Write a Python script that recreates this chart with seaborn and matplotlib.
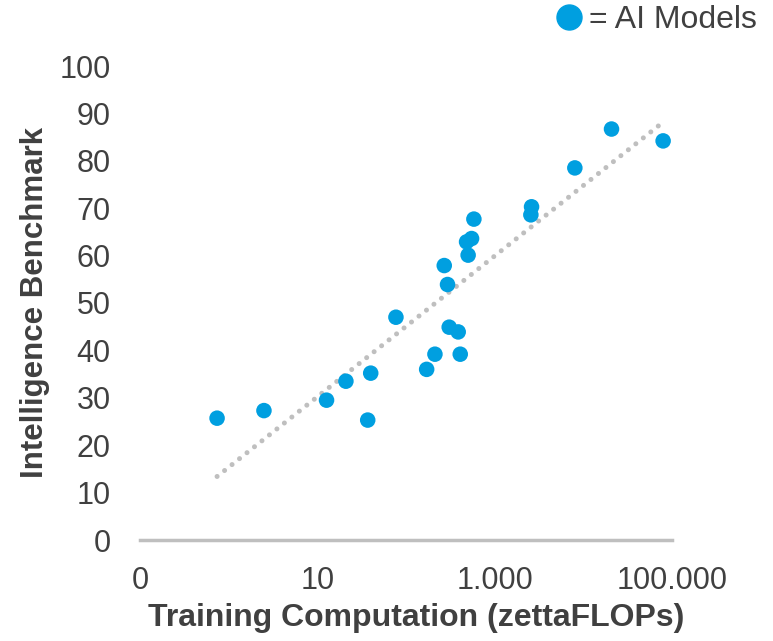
# AI models: intelligence benchmark vs training computation (log scale)
import numpy as np
import pandas as pd
import seaborn as sns
import matplotlib
import matplotlib.pyplot as plt
from matplotlib.ticker import FixedLocator, FixedFormatter, NullLocator

matplotlib.use("Agg")

# values
compute = [0.74, 2.5, 12.7, 21, 40, 37, 77, 171, 212, 307, 388, 409,
           270, 294, 482, 549, 502, 583, 2606, 2560, 8020, 20790, 79400]
benchmark = [25.7, 27.3, 29.5, 33.5, 35.2, 25.3, 47.0, 36.0, 39.2, 44.9, 43.9, 39.2,
             57.9, 53.9, 62.9, 63.6, 60.1, 67.7, 70.3, 68.6, 78.5, 86.7, 84.2]
x_ticks = [0.1, 10, 1000, 100000]
x_tick_labels = ["0", "10", "1.000", "100.000"]
y_ticks = list(range(0, 101, 10))

df = pd.DataFrame({"compute": compute, "benchmark": benchmark})

sns.set_style("white")
plt.rcParams["font.family"] = ["Liberation Sans", "DejaVu Sans"]

blue = "#009FE0"
grey = "#BFBFBF"
text_col = "#404040"

fig = plt.figure(figsize=(7.73, 6.41), dpi=100)
ax = fig.add_axes([140 / 773, 101 / 641, 532 / 773, 474 / 641])

# trend line: linear fit on log10(compute)
lx = np.log10(df["compute"])
slope, icpt = np.polyfit(lx, df["benchmark"], 1)
tx = np.linspace(lx.min(), lx.max(), 50)
ax.plot(10 ** tx, slope * tx + icpt, color=grey, lw=3.6,
        linestyle=(0, (0.01, 1.9)), dash_capstyle="round", zorder=1)

sns.scatterplot(data=df, x="compute", y="benchmark", ax=ax, color=blue,
                s=125, edgecolor="none", zorder=2, legend=False)

ax.set_xscale("log")
ax.set_xlim(0.1, 100000)
ax.set_ylim(0, 100)
ax.xaxis.set_major_locator(FixedLocator(x_ticks))
ax.xaxis.set_major_formatter(FixedFormatter(x_tick_labels))
ax.xaxis.set_minor_locator(NullLocator())
ax.set_yticks(y_ticks)

ax.tick_params(axis="both", length=0, labelsize=22, labelcolor=text_col)
ax.tick_params(axis="x", pad=19)
ax.tick_params(axis="y", pad=21)

for side in ["top", "right", "left"]:
    ax.spines[side].set_visible(False)
ax.spines["bottom"].set_color(grey)
ax.spines["bottom"].set_linewidth(2.5)

ax.set_xlabel("Training Computation (zettaFLOPs)", fontsize=23, fontweight="bold",
              color=text_col, labelpad=5)
ax.xaxis.label.set_x(0.52)
ax.set_ylabel("Intelligence Benchmark", fontsize=22.5, fontweight="bold",
              color=text_col, labelpad=7)

# legend in the top right corner
handle = plt.Line2D([], [], marker="o", color=blue, linestyle="none", markersize=18)
fig.legend([handle], ["= AI Models"], loc="center right",
           bbox_to_anchor=(757 / 773, 1 - 20 / 641),
           frameon=False, fontsize=23, handletextpad=0.2, handlelength=0.85,
           labelcolor=text_col, borderaxespad=0, borderpad=0)

fig.savefig("out.png", dpi=100)
